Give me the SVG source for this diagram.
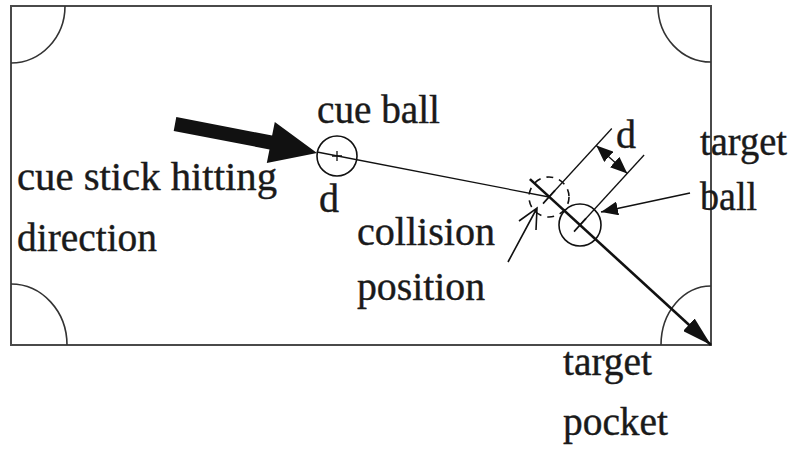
<svg xmlns="http://www.w3.org/2000/svg" width="794" height="451" viewBox="0 0 794 451">
<style>
.t{font-family:"Liberation Serif","Times New Roman","DejaVu Serif",serif;font-size:40px;fill:#1a1a1a;stroke:#1a1a1a;stroke-width:0.4}
.tbl{fill:none;stroke:#4a4a4a;stroke-width:2}
.arc{fill:none;stroke:#333;stroke-width:1.6}
.thin{fill:none;stroke:#111;stroke-width:1.3}
.med{fill:none;stroke:#111;stroke-width:1.6}
.thick{fill:none;stroke:#111;stroke-width:2.6}
</style>
<defs>
<marker id="ahBig" viewBox="0 0 10 10" refX="10" refY="5" markerUnits="userSpaceOnUse" markerWidth="30" markerHeight="17" preserveAspectRatio="none" orient="auto"><path d="M0,0 L10,5 L0,10 z" fill="#111"/></marker>
<marker id="ahMid" viewBox="0 0 10 10" refX="10" refY="5" markerUnits="userSpaceOnUse" markerWidth="17" markerHeight="14" preserveAspectRatio="none" orient="auto-start-reverse"><path d="M0,0 L10,5 L0,10 z" fill="#111"/></marker>
</defs>
<g id="table">
<rect class="tbl" x="11" y="6" width="700" height="339"/>
<path class="arc" d="M65,6 A54 57 0 0 1 11,63"/>
<path class="arc" d="M658,6 A53 56 0 0 0 711,62"/>
<path class="arc" d="M11,284 A56 61 0 0 1 67,345"/>
<path class="arc" d="M661,345 A50 59 0 0 1 711,286"/>
</g>
<g id="cue-ball">
<circle class="med" cx="337" cy="156" r="20"/>
<path class="thin" d="M332,156 H342 M337,151 V161"/>
</g>
<g id="collision-position">
<circle class="med" cx="549" cy="197" r="20" stroke-dasharray="7 6"/>
<path class="med" d="M543,203.6 L555,190.4"/>
</g>
<g id="target-ball">
<circle class="med" cx="580" cy="225" r="21"/>
<path class="med" d="M574,231.6 L586,218.4"/>
</g>
<g id="connectors">
<path id="cue-stick" d="M176.3,117.1 L272.1,135.6 L274.8,121.9 L317,153 L266.8,163.1 L269.5,149.4 L173.7,130.9 z" fill="#111"/>
<path class="thin" d="M317,152 L549,197"/>
<path class="thick" d="M529.9,179.1 L711,345" marker-end="url(#ahBig)"/>
<path class="thin" d="M549,197 L611.8,128.5"/>
<path class="thin" d="M580,225 L644.1,155"/>
<path class="thin" d="M596.3,145.4 L627.3,173.4" marker-start="url(#ahMid)" marker-end="url(#ahMid)"/>
<path class="med" d="M690,193 L601,212" marker-end="url(#ahMid)"/>
<path class="med" d="M508,262 L537,208 M519,221 L537,208 L536,230"/>
</g>
<g id="labels">
<text class="t" x="17" y="190" textLength="260" lengthAdjust="spacingAndGlyphs">cue stick hitting</text>
<text class="t" x="17" y="251" textLength="140" lengthAdjust="spacingAndGlyphs">direction</text>
<text class="t" x="317" y="123" textLength="123" lengthAdjust="spacingAndGlyphs">cue ball</text>
<text class="t" x="319" y="212">d</text>
<text class="t" x="357" y="245" textLength="138" lengthAdjust="spacingAndGlyphs">collision</text>
<text class="t" x="357" y="300" textLength="128" lengthAdjust="spacingAndGlyphs">position</text>
<text class="t" x="616" y="148">d</text>
<text class="t" x="700" y="155" textLength="87" lengthAdjust="spacingAndGlyphs">target</text>
<text class="t" x="700" y="210" textLength="57" lengthAdjust="spacingAndGlyphs">ball</text>
<text class="t" x="563" y="375" textLength="89" lengthAdjust="spacingAndGlyphs">target</text>
<text class="t" x="563" y="435" textLength="105" lengthAdjust="spacingAndGlyphs">pocket</text>
</g>
</svg>
